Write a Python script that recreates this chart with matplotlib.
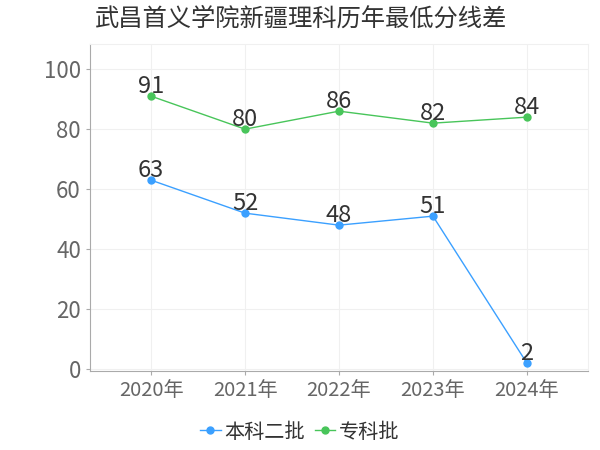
import matplotlib.pyplot as plt

plt.rcParams['font.family'] = ['Noto Sans CJK SC', 'DejaVu Sans']

years = ['2020年', '2021年', '2022年', '2023年', '2024年']
benke2 = [63, 52, 48, 51, 2]
zhuanke = [91, 80, 86, 82, 84]
yticks = [0, 20, 40, 60, 80, 100]

blue = '#3ba0ff'
green = '#48c55a'

fig = plt.figure(figsize=(6, 4.5), dpi=100)
ax = fig.add_axes([0.15, 0.175, 0.83, 0.728])

x = range(len(years))
ax.plot(x, benke2, color=blue, lw=1, marker='o', ms=5, label='本科二批')
ax.plot(x, zhuanke, color=green, lw=1, marker='o', ms=5, label='专科批')

for vals in (benke2, zhuanke):
    for xi, v in zip(x, vals):
        ax.annotate(str(v), (xi, v), xytext=(0, -1.5), textcoords='offset points',
                    ha='center', va='bottom', fontsize=17, color='#333333')

ax.set_xlim(-0.65, 4.65)
ax.set_ylim(-0.7, 108.5)
ax.set_xticks(list(x))
ax.set_xticklabels(years)
ax.set_yticks(yticks)
ax.grid(True, color='#f0f0f0', lw=0.8)
ax.set_axisbelow(True)
ax.tick_params(colors='#aaaaaa', labelcolor='#666666', length=3)
ax.tick_params(axis='y', labelsize=16)
ax.tick_params(axis='x', labelsize=14.5)
for s in ('top', 'right'):
    ax.spines[s].set_color('#f0f0f0')
for s in ('left', 'bottom'):
    ax.spines[s].set_color('#aaaaaa')

fig.text(0.158, 0.958, '武昌首义学院新疆理科历年最低分线差', fontsize=17.5,
         color='#333333', va='center')

fig.legend(loc='center', bbox_to_anchor=(0.5, 0.04), ncol=2, frameon=False,
           fontsize=14.5, handlelength=1.0, handletextpad=0.2, columnspacing=0.5,
           labelcolor='#333333')

fig.savefig('out.png')
